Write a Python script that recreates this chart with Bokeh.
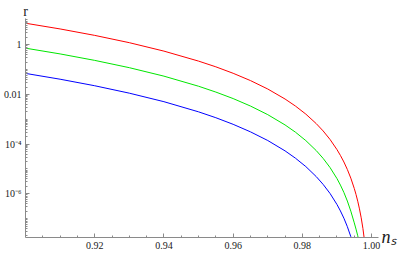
from bokeh.plotting import figure
from bokeh.models import FixedTicker, NumeralTickFormatter, Range1d, LinearAxis, LogAxis
from bokeh.embed import file_html
from bokeh.resources import INLINE

# ---- data (r versus n_s) ----
ns_red = [0.900, 0.910, 0.920, 0.930, 0.940, 0.950, 0.955, 0.960, 0.965, 0.970,
          0.975, 0.978, 0.981, 0.984, 0.986, 0.988, 0.990, 0.991, 0.992, 0.993,
          0.994, 0.995, 0.9955, 0.996, 0.9965, 0.997, 0.9975, 0.998, 0.9983]
r_red = [7.41, 4.36, 2.40, 1.22, 0.558, 0.221, 0.130, 0.0714, 0.0363, 0.0166,
         6.56e-3, 3.42e-3, 1.62e-3, 6.73e-4, 3.40e-4, 1.54e-4, 6.03e-5, 3.50e-5, 1.91e-5, 9.53e-6,
         4.27e-6, 1.64e-6, 9.42e-7, 5.04e-7, 2.47e-7, 1.08e-7, 3.99e-8, 1.16e-8, 4.61e-9]

ns_green = [0.900, 0.910, 0.920, 0.930, 0.940, 0.950, 0.955, 0.960, 0.965, 0.970,
            0.975, 0.978, 0.981, 0.984, 0.986, 0.988, 0.990, 0.991, 0.992, 0.993,
            0.994, 0.995, 0.9955, 0.996, 0.9965, 0.9968]
r_green = [0.733, 0.430, 0.236, 0.120, 0.0547, 0.0215, 0.0125, 6.84e-3, 3.43e-3, 1.54e-3,
           5.94e-4, 3.03e-4, 1.39e-4, 5.52e-5, 2.67e-5, 1.14e-5, 4.10e-6, 2.24e-6, 1.13e-6, 5.11e-7,
           2.00e-7, 6.76e-8, 3.80e-8, 2.04e-8, 1.02e-8, 6.3e-9]

ns_blue = [0.900, 0.910, 0.920, 0.930, 0.940, 0.950, 0.955, 0.960, 0.965, 0.970,
           0.975, 0.978, 0.981, 0.984, 0.986, 0.988, 0.990, 0.991, 0.992, 0.993,
           0.994, 0.9945, 0.995]
r_blue = [0.0706, 0.0412, 0.0225, 0.0113, 5.13e-3, 2.00e-3, 1.16e-3, 6.28e-4, 3.13e-4, 1.40e-4,
          5.36e-5, 2.72e-5, 1.25e-5, 4.94e-6, 2.39e-6, 1.03e-6, 3.71e-7, 2.04e-7, 1.04e-7, 4.75e-8,
          1.88e-8, 1.10e-8, 6.08e-9]

x_major = [0.92, 0.94, 0.96, 0.98, 1.00]
x_minor = [0.905, 0.91, 0.915, 0.925, 0.93, 0.935, 0.945, 0.95, 0.955,
           0.965, 0.97, 0.975, 0.985, 0.99, 0.995]
y_major = [1.0, 1e-2, 1e-4, 1e-6]
y_major_labels = ["1", "0.01", "10\u207b\u2074", "10\u207b\u2076"]
x_title = "n\u209b"
y_title = "r"

X_START, X_END = 0.9, 1.002
Y_START, Y_END = 10 ** -7.76, 10 ** 1.06

FONT = "Liberation Serif"
AXIS_GREY = "#8a8a8a"
TEXT = "#1a1a1a"

y_minor = []
for k in range(-8, 2):
    for m in range(1, 10):
        v = m * 10.0 ** k
        if Y_START < v < Y_END and not any(abs(v - t) / t < 1e-9 for t in y_major):
            y_minor.append(v)

p = figure(width=399, height=254,
           x_range=Range1d(X_START, X_END), y_range=Range1d(Y_START, Y_END),
           y_axis_type="log", output_backend="svg", toolbar_location=None,
           min_border_left=22, min_border_right=17, min_border_top=17, min_border_bottom=17)

p.outline_line_color = None
p.xgrid.visible = False
p.ygrid.visible = False
p.background_fill_color = "white"
p.border_fill_color = "white"

p.line(ns_red, r_red, line_color="#ff0000", line_width=1)
p.line(ns_green, r_green, line_color="#00e600", line_width=1)
p.line(ns_blue, r_blue, line_color="#0000ff", line_width=1)

for ax in (p.xaxis[0], p.yaxis[0]):
    ax.axis_line_color = AXIS_GREY
    ax.major_tick_line_color = AXIS_GREY
    ax.minor_tick_line_color = AXIS_GREY
    ax.major_tick_in = 4
    ax.major_tick_out = 0
    ax.minor_tick_in = 2
    ax.minor_tick_out = 0
    ax.major_label_text_font = FONT
    ax.major_label_text_font_size = "10px"
    ax.major_label_text_color = TEXT
    ax.major_label_standoff = 4

p.xaxis[0].ticker = FixedTicker(ticks=x_major, minor_ticks=x_minor)
p.xaxis[0].formatter = NumeralTickFormatter(format="0.00")
p.yaxis[0].ticker = FixedTicker(ticks=y_major, minor_ticks=y_minor)
p.yaxis[0].major_label_overrides = {t: s for t, s in zip(y_major, y_major_labels)}


def label_axis(axis, tick, text, size, style, standoff):
    axis.ticker = FixedTicker(ticks=[tick], minor_ticks=[])
    axis.major_label_overrides = {tick: text}
    axis.axis_line_color = None
    axis.major_tick_line_color = None
    axis.minor_tick_line_color = None
    axis.major_tick_in = 0
    axis.major_tick_out = 0
    axis.major_label_text_font = FONT
    axis.major_label_text_font_size = size
    axis.major_label_text_font_style = style
    axis.major_label_text_color = TEXT
    axis.major_label_standoff = standoff


# "r" above the top end of the vertical axis
top = LinearAxis()
label_axis(top, X_START * 1.000001, y_title, "14px", "normal", 0)
p.add_layout(top, "above")

# "n_s" right of the end of the horizontal axis
right = LogAxis()
label_axis(right, Y_START * 1.0001, x_title, "18px", "italic", 3)
p.add_layout(right, "right")

open("out.html", "w").write(file_html(p, INLINE))
